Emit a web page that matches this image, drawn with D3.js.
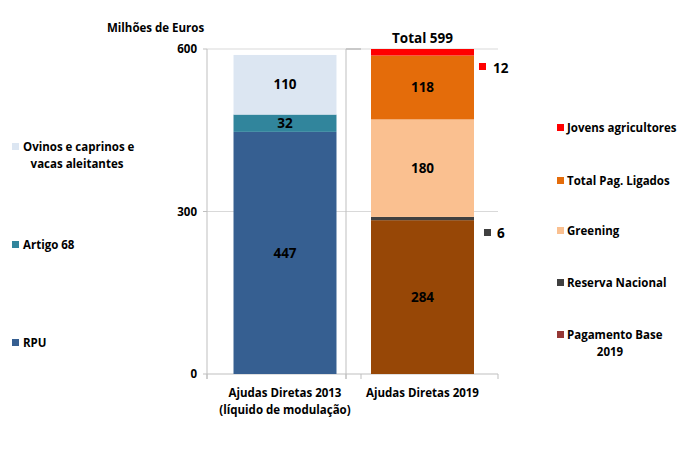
<!DOCTYPE html>
<html><head><meta charset="utf-8">
<script src="https://cdnjs.cloudflare.com/ajax/libs/d3/7.8.5/d3.min.js"></script>
<style>
body{margin:0;background:#fff;}
svg text{font-family:"Open Sans","Noto Sans",sans-serif;font-weight:bold;fill:#000;}
</style></head><body>
<svg id="c" width="695" height="453"></svg>
<script>
const categories = ["Ajudas Diretas 2013", "Ajudas Diretas 2019"];
const categoryLines = [["Ajudas Diretas 2013","(líquido de modulação)"],["Ajudas Diretas 2019"]];
const yTicks = [0, 300, 600];
const names2013 = ["RPU", "Artigo 68", "Ovinos e caprinos e vacas aleitantes"];
const values2013 = [447, 32, 110];
const colors2013 = ["#365F91", "#31859C", "#DCE6F2"];
const names2019 = ["Pagamento Base 2019", "Reserva Nacional", "Greening", "Total Pag. Ligados", "Jovens agricultores"];
const values2019 = [284, 6, 180, 118, 12];
const colors2019 = ["#974706", "#404040", "#FAC090", "#E46C0A", "#FF0000"];
const legend2019Colors = ["#953735", "#404040", "#FAC090", "#E46C0A", "#FF0000"];
const total2019 = 599;

const svg = d3.select("#c");
const y = d3.scaleLinear().domain([0, 600]).range([374, 49]);
const x = d3.scaleBand().domain(categories).range([216.25, 491.25]).paddingInner(0.251).paddingOuter(0.1255);

const panels = [[207, 346], [346, 498]];
// gridlines
panels.forEach(p => {
  [300, 600].forEach(v => {
    svg.append("line").attr("x1", p[0]).attr("x2", p[1]).attr("y1", y(v)).attr("y2", y(v))
      .attr("stroke", "#D9D9D9").attr("stroke-width", 1);
  });
});
svg.append("line").attr("x1", 346).attr("x2", 361).attr("y1", y(600)).attr("y2", y(600)).attr("stroke", "#A6A6A6");
// vertical axes
[207, 346].forEach(xx => {
  svg.append("line").attr("x1", xx).attr("x2", xx).attr("y1", y(600)).attr("y2", y(0)+5).attr("stroke", "#BFBFBF");
});
// bottom axis
svg.append("line").attr("x1", 207).attr("x2", 498).attr("y1", y(0)).attr("y2", y(0)).attr("stroke", "#BFBFBF");
[207, 346, 361, 498].forEach(xx => {
  svg.append("line").attr("x1", xx).attr("x2", xx).attr("y1", y(0)).attr("y2", y(0)+5).attr("stroke", "#BFBFBF");
});
// y ticks
yTicks.forEach(v => {
  svg.append("line").attr("x1", 203).attr("x2", 207).attr("y1", y(v)).attr("y2", y(v)).attr("stroke", "#BFBFBF");
  svg.append("text").attr("x", 197).attr("y", y(v)).attr("dy", "0.35em").attr("text-anchor", "end")
    .style("font-size", "11.5px").text(v);
});
svg.append("text").attr("x", 107).attr("y", 32).style("font-size", "11.5px").text("Milhões de Euros");

function stackBar(cat, vals, cols, labelMin) {
  let acc = 0;
  vals.forEach((v, i) => {
    const y0 = y(acc), y1 = y(acc + v);
    svg.append("rect").attr("x", x(cat)).attr("width", x.bandwidth()).attr("y", y1).attr("height", y0 - y1).attr("fill", cols[i]);
    if (v >= labelMin) {
      svg.append("text").attr("x", x(cat) + x.bandwidth()/2).attr("y", (y0 + y1)/2).attr("dy", "0.35em")
        .attr("text-anchor", "middle").style("font-size", "13.5px").text(v);
    }
    acc += v;
  });
}
stackBar(categories[0], values2013, colors2013, 20);
stackBar(categories[1], values2019, colors2019, 20);

// Total label
svg.append("text").attr("x", x(categories[1]) + x.bandwidth()/2).attr("y", 43).attr("text-anchor", "middle")
  .style("font-size", "13.5px").text("Total " + total2019);

// side labels for small segments
const bx2 = x(categories[1]) + x.bandwidth();
svg.append("rect").attr("x", bx2 + 5).attr("y", 63).attr("width", 7).attr("height", 7).attr("fill", colors2019[4]);
svg.append("text").attr("x", bx2 + 19).attr("y", 68).attr("dy", "0.35em").style("font-size", "13.5px").text(values2019[4]);
svg.append("rect").attr("x", bx2 + 10).attr("y", 229).attr("width", 7).attr("height", 7).attr("fill", colors2019[1]);
svg.append("text").attr("x", bx2 + 23).attr("y", 233).attr("dy", "0.35em").style("font-size", "13.5px").text(values2019[1]);

// x labels
categoryLines.forEach((lines, i) => {
  lines.forEach((l, j) => {
    svg.append("text").attr("x", x(categories[i]) + x.bandwidth()/2).attr("y", 397 + j*17)
      .attr("text-anchor", "middle").style("font-size", "11.5px").text(l);
  });
});

// left legend
const leftLeg = [
  {lines: ["Ovinos e caprinos e", "vacas aleitantes"], c: colors2013[2], y: 147},
  {lines: ["Artigo 68"], c: colors2013[1], y: 245},
  {lines: ["RPU"], c: colors2013[0], y: 343}
];
leftLeg.forEach(d => {
  svg.append("rect").attr("x", 12).attr("y", d.y - 4).attr("width", 7).attr("height", 7).attr("fill", d.c);
  svg.append("text").attr("x", 23).attr("y", d.y).attr("dy", "0.35em").style("font-size", "11.5px").text(d.lines[0]);
  if (d.lines[1]) svg.append("text").attr("x", 77).attr("y", d.y + 17).attr("dy", "0.35em").attr("text-anchor", "middle").style("font-size", "11.5px").text(d.lines[1]);
});
// right legend
const rightLeg = [
  {lines: ["Jovens agricultores"], c: legend2019Colors[4], y: 128},
  {lines: ["Total Pag. Ligados"], c: legend2019Colors[3], y: 181},
  {lines: ["Greening"], c: legend2019Colors[2], y: 231},
  {lines: ["Reserva Nacional"], c: legend2019Colors[1], y: 283},
  {lines: ["Pagamento Base", "2019"], c: legend2019Colors[0], y: 335}
];
rightLeg.forEach(d => {
  svg.append("rect").attr("x", 557).attr("y", d.y - 4).attr("width", 7).attr("height", 7).attr("fill", d.c);
  svg.append("text").attr("x", 567).attr("y", d.y).attr("dy", "0.35em").style("font-size", "11.5px").text(d.lines[0]);
  if (d.lines[1]) svg.append("text").attr("x", 610).attr("y", d.y + 17).attr("dy", "0.35em").attr("text-anchor", "middle").style("font-size", "11.5px").text(d.lines[1]);
});
</script></body></html>
